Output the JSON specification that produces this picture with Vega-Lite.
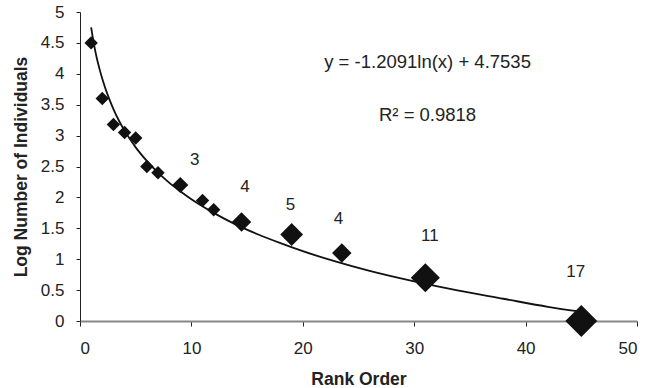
{
  "$schema": "https://vega.github.io/schema/vega-lite/v6.json",
  "width": 557,
  "height": 309,
  "autosize": "none",
  "padding": {"left": 80, "top": 12, "right": 23, "bottom": 67},
  "background": "white",
  "config": {
    "view": {"stroke": null},
    "font": "Liberation Sans",
    "axis": {"grid": false, "labelFont": "Liberation Sans", "titleFont": "Liberation Sans", "labelColor": "#222", "titleColor": "#222", "tickColor": "#222", "labelFontSize": 17, "titleFontSize": 17.5, "titleFontWeight": "bold"}
  },
  "datasets": {
    "curve": [
      {"rank": 1, "value": 4.75}, {"rank": 1.25, "value": 4.48}, {"rank": 1.5, "value": 4.26}, {"rank": 1.75, "value": 4.08},
      {"rank": 2, "value": 3.92}, {"rank": 2.5, "value": 3.65}, {"rank": 3, "value": 3.43}, {"rank": 3.5, "value": 3.24},
      {"rank": 4, "value": 3.08}, {"rank": 5, "value": 2.81}, {"rank": 6, "value": 2.59}, {"rank": 7, "value": 2.40},
      {"rank": 8, "value": 2.24}, {"rank": 9, "value": 2.10}, {"rank": 10, "value": 1.97}, {"rank": 12, "value": 1.75},
      {"rank": 14, "value": 1.56}, {"rank": 16, "value": 1.40}, {"rank": 18, "value": 1.26}, {"rank": 20, "value": 1.13},
      {"rank": 23, "value": 0.96}, {"rank": 26, "value": 0.81}, {"rank": 30, "value": 0.64}, {"rank": 34, "value": 0.49},
      {"rank": 38, "value": 0.36}, {"rank": 42, "value": 0.23}, {"rank": 45, "value": 0.15}
    ],
    "points": [
      {"rank": 1, "value": 4.5, "n": 1},
      {"rank": 2, "value": 3.6, "n": 1},
      {"rank": 3, "value": 3.18, "n": 1},
      {"rank": 4, "value": 3.05, "n": 1},
      {"rank": 5, "value": 2.96, "n": 1},
      {"rank": 6, "value": 2.5, "n": 1},
      {"rank": 7, "value": 2.4, "n": 1},
      {"rank": 9, "value": 2.2, "n": 3},
      {"rank": 11, "value": 1.95, "n": 1},
      {"rank": 12, "value": 1.8, "n": 1},
      {"rank": 14.5, "value": 1.6, "n": 4},
      {"rank": 19, "value": 1.4, "n": 5},
      {"rank": 23.5, "value": 1.1, "n": 4},
      {"rank": 31, "value": 0.7, "n": 11},
      {"rank": 45, "value": 0.0, "n": 17}
    ],
    "labels": [
      {"rank": 10.3, "value": 2.6, "text": "3"},
      {"rank": 14.8, "value": 2.17, "text": "4"},
      {"rank": 18.9, "value": 1.88, "text": "5"},
      {"rank": 23.2, "value": 1.65, "text": "4"},
      {"rank": 31.4, "value": 1.38, "text": "11"},
      {"rank": 44.5, "value": 0.8, "text": "17"}
    ],
    "notes": [
      {"rank": 31.2, "value": 4.19, "text": "y = -1.2091ln(x) + 4.7535"},
      {"rank": 31.2, "value": 3.33, "text": "R² = 0.9818"}
    ]
  },
  "encoding": {
    "x": {"field": "rank", "type": "quantitative", "scale": {"domain": [0, 50]},
      "axis": {"title": "Rank Order", "values": [0, 10, 20, 30, 40, 50], "domainColor": "#888", "domainWidth": 2, "tickSize": 5, "labelPadding": 14, "titleBaseline": "alphabetic", "titleY": 63}},
    "y": {"field": "value", "type": "quantitative", "scale": {"domain": [0, 5]},
      "axis": {"title": "Log Number of Individuals", "values": [0, 0.5, 1, 1.5, 2, 2.5, 3, 3.5, 4, 4.5, 5], "format": "~g", "domainColor": "#222", "tickSize": 4, "labelPadding": 12, "titleBaseline": "alphabetic", "titleX": -54}}
  },
  "layer": [
    {"data": {"name": "curve"}, "mark": {"type": "line", "color": "#111", "strokeWidth": 1.8, "interpolate": "monotone"}},
    {"data": {"name": "points"}, "mark": {"type": "point", "shape": "diamond", "filled": true, "color": "#111", "opacity": 1},
      "encoding": {"size": {"field": "n", "type": "quantitative", "legend": null, "scale": {"type": "linear", "domain": [1, 3, 4, 5, 11, 17], "range": [180, 260, 380, 520, 850, 1020]}}}},
    {"data": {"name": "labels"}, "mark": {"type": "text", "fontSize": 17, "color": "#222", "align": "center", "baseline": "middle"},
      "encoding": {"text": {"field": "text"}}},
    {"data": {"name": "notes"}, "mark": {"type": "text", "fontSize": 18.5, "color": "#222", "align": "center", "baseline": "middle"},
      "encoding": {"text": {"field": "text"}}}
  ]
}
